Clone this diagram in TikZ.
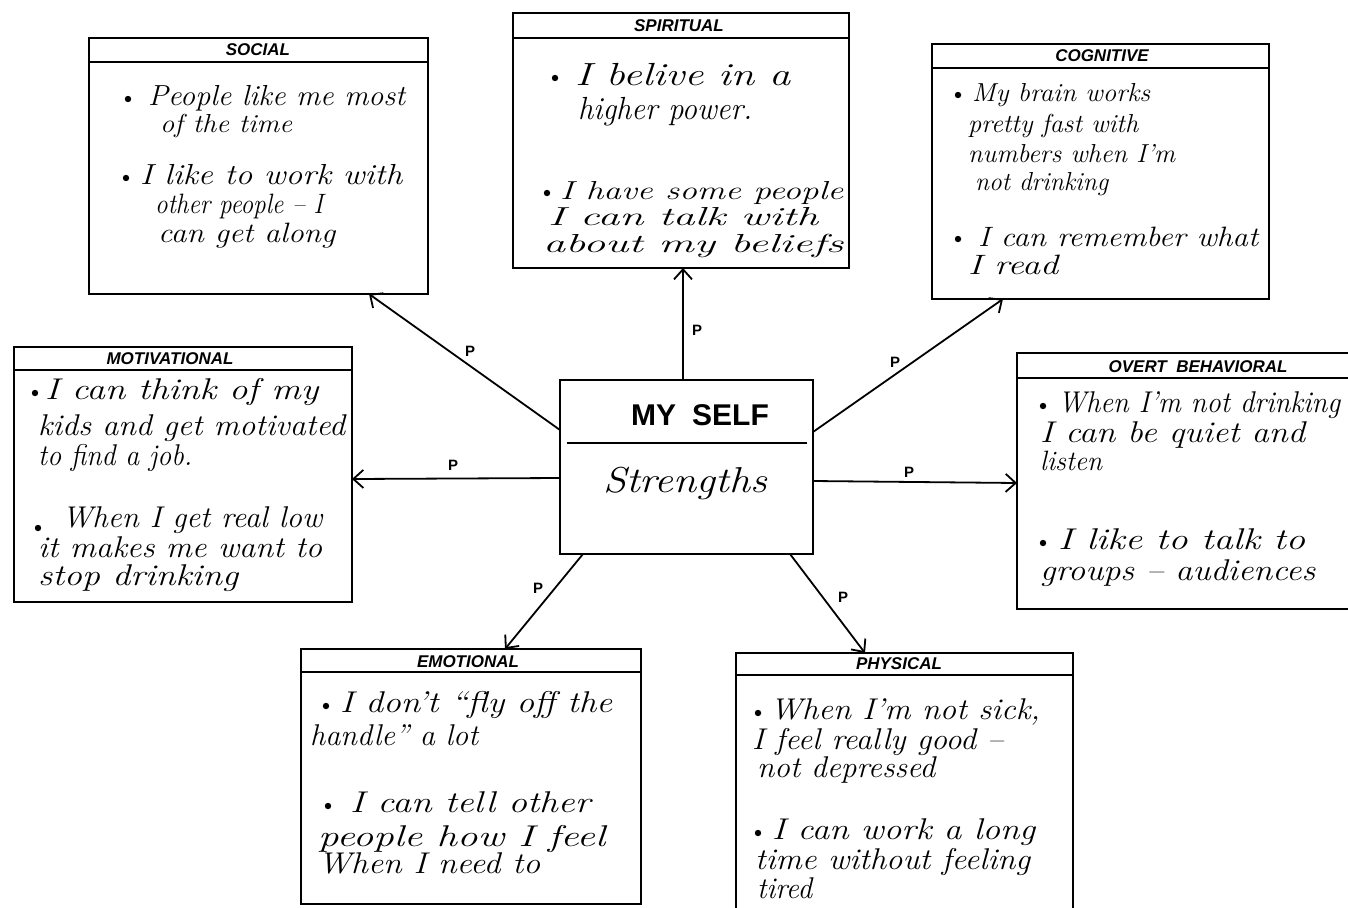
\documentclass[tikz,border=0pt]{standalone}
\usepackage{fontspec}
\usepackage{graphicx}
\usetikzlibrary{arrows.meta}
\newfontfamily\hdrfont{Liberation Sans}
\tikzset{
  box/.style={draw=black, line width=1.7pt, inner sep=0pt, outer sep=0pt, fill=white},
  sepline/.style={line width=1.4pt},
  conn/.style={line width=1.8pt, -{Straight Barb[length=10pt,width=18pt,line width=1.8pt]}},
  hdr/.style={font=\hdrfont\bfseries\itshape\fontsize{17}{17}\selectfont, inner sep=0pt, anchor=base},
  plab/.style={font=\hdrfont\bfseries\fontsize{15}{15}\selectfont, inner sep=0pt},
  hw/.style={font=\itshape, inner sep=0pt, anchor=base west},
  bul/.style={fill=black}
}
\newcommand\hwl[6][30]{\node[hw] (#2) at (#3,#4) {\fontsize{#1}{#1}\selectfont\resizebox{#5pt}{\height}{#6}};}
\begin{document}
\begin{tikzpicture}[x=1pt,y=-1pt]
\fill[white] (0,0) rectangle (1348,907);
\useasboundingbox (0,0) rectangle (1348,907);

% boxes
\node[box, minimum width=339pt, minimum height=256pt] (social) at (258.5,166) {};
\node[box, minimum width=336pt, minimum height=255pt] (spiritual) at (681,140.5) {};
\node[box, minimum width=337pt, minimum height=255pt] (cognitive) at (1100.5,171.5) {};
\node[box, minimum width=338pt, minimum height=255pt] (motivational) at (183,474.5) {};
\node[box, minimum width=335pt, minimum height=256pt] (overt) at (1184.5,481) {};
\node[box, minimum width=340pt, minimum height=255pt] (emotional) at (471,776.5) {};
\node[box, minimum width=337pt, minimum height=257pt] (physical) at (904.5,781.5) {};
\node[box, minimum width=253pt, minimum height=174pt] (self) at (686.5,467) {};

% header separators
\draw[sepline] ([yshift=-24pt]social.north west) -- ([yshift=-24pt]social.north east);
\draw[sepline] ([yshift=-25pt]spiritual.north west) -- ([yshift=-25pt]spiritual.north east);
\draw[sepline] ([yshift=-24pt]cognitive.north west) -- ([yshift=-24pt]cognitive.north east);
\draw[sepline] ([yshift=-23pt]motivational.north west) -- ([yshift=-23pt]motivational.north east);
\draw[sepline] ([yshift=-25pt]overt.north west) -- ([yshift=-25pt]overt.north east);
\draw[sepline] ([yshift=-23pt]emotional.north west) -- ([yshift=-23pt]emotional.north east);
\draw[sepline] ([yshift=-22pt]physical.north west) -- ([yshift=-22pt]physical.north east);
\draw[sepline] ([xshift=7pt,yshift=-63pt]self.north west) -- ([xshift=-6pt,yshift=-63pt]self.north east);

% headers
\node[hdr] (hsoc) at (258,56) {SOCIAL};
\node[hdr] (hspi) at (679,32) {SPIRITUAL};
\node[hdr] (hcog) at (1102,62) {COGNITIVE};
\node[hdr] (hmot) at (170,364) {MOTIVATIONAL};
\node[hdr] (hov) at (1198,372) {OVERT\ \ BEHAVIORAL};
\node[hdr] (hem) at (468,667) {EMOTIONAL};
\node[hdr] (hph) at (899,669) {PHYSICAL};

% center
\node[font=\hdrfont\bfseries\fontsize{30}{30}\selectfont, inner sep=0pt, anchor=base] (myself) at (700,425) {MY\hspace{16pt}SELF};
\node[hw, anchor=base] (strengths) at (685,492) {\fontsize{36}{36}\selectfont\resizebox{164pt}{\height}{Strengths}};

% connectors
\draw[conn] ([yshift=37pt]self.west) -- ([xshift=110.5pt]social.south);
\draw[conn] ([xshift=-3.5pt]self.north) -- ([xshift=2pt]spiritual.south);
\draw[conn] ([yshift=35pt]self.east) -- ([xshift=-97.5pt]cognitive.south);
\draw[conn] ([yshift=-11pt]self.west) -- ([yshift=-4.5pt]motivational.east);
\draw[conn] ([yshift=-14pt]self.east) -- ([yshift=-2pt]overt.west);
\draw[conn] ([xshift=-103.5pt]self.south) -- ([xshift=34pt]emotional.north);
\draw[conn] ([xshift=103.5pt]self.south) -- ([xshift=-39.5pt]physical.north);

% P labels
\node[plab] (p1) at (470,351) {P};
\node[plab] (p2) at (453,465) {P};
\node[plab] (p3) at (697,330) {P};
\node[plab] (p4) at (895,362) {P};
\node[plab] (p5) at (909,472) {P};
\node[plab] (p6) at (538,588) {P};
\node[plab] (p7) at (843,597) {P};

% bullets
\foreach \bx/\by in {128/99, 126/178, 555/78, 547/193, 958/95, 958/239, 35/393, 38/528, 1043/406, 1043/543, 326/706, 328/806, 758/713, 758/833}
  \fill[bul] (\bx,\by) circle (3.2pt);

% SOCIAL
\hwl[29]{soc1}{148}{105}{257}{People like me most}
\hwl[26]{soc2}{160}{132}{132}{of the time}
\hwl[29]{soc3}{140}{184}{262}{I like to work with}
\hwl[28]{soc4}{155}{213}{168}{other people -- I}
\hwl[28]{soc5}{158}{242}{177}{can get along}

% SPIRITUAL
\hwl[32]{spi1}{575}{85}{215}{I belive in a}
\hwl[32]{spi2}{578}{119}{174}{higher power.}
\hwl[26]{spi3}{560}{199}{283}{I have some people}
\hwl[26]{spi4}{548}{225}{270}{I can talk with}
\hwl[26]{spi5}{543}{252}{300}{about my beliefs}

% COGNITIVE
\hwl[26]{cog1}{972}{101}{178}{My brain works}
\hwl[26]{cog2}{968}{132}{170}{pretty fast with}
\hwl[26]{cog3}{968}{162}{207}{numbers when I'm}
\hwl[26]{cog4}{975}{190}{133}{not drinking}
\hwl[28]{cog5}{978}{246}{280}{I can remember what}
\hwl[28]{cog6}{968}{274}{90}{I read}

% MOTIVATIONAL
\hwl{mot1}{45}{399}{273}{I can think of my}
\hwl{mot2}{38}{435}{307}{kids and get motivated}
\hwl{mot3}{38}{465}{154}{to find a job.}
\hwl{mot4}{62}{527}{260}{When I get real low}
\hwl{mot5}{38}{557}{284}{it makes me want to}
\hwl{mot6}{38}{585}{200}{stop drinking}

% OVERT BEHAVIORAL
\hwl{ov1}{1058}{412}{282}{When I'm not drinking}
\hwl{ov2}{1040}{442}{265}{I can be quiet and}
\hwl[28]{ov3}{1040}{470}{62}{listen}
\hwl{ov4}{1058}{549}{247}{I like to talk to}
\hwl{ov5}{1040}{580}{275}{groups -- audiences}

% EMOTIONAL
\hwl{em1}{340}{712}{272}{I don't ``fly off the}
\hwl{em2}{310}{745}{168}{handle'' a lot}
\hwl{em3}{350}{812}{240}{I can tell other}
\hwl{em4}{318}{846}{287}{people how I feel}
\hwl{em5}{318}{873}{222}{When I need to}

% PHYSICAL
\hwl{ph1}{770}{719}{270}{When I'm not sick,}
\hwl{ph2}{752}{749}{251}{I feel really good --}
\hwl{ph3}{757}{777}{178}{not depressed}
\hwl{ph4}{772}{839}{263}{I can work a long}
\hwl{ph5}{755}{869}{275}{time without feeling}
\hwl{ph6}{757}{898}{55}{tired}
\end{tikzpicture}
\end{document}
